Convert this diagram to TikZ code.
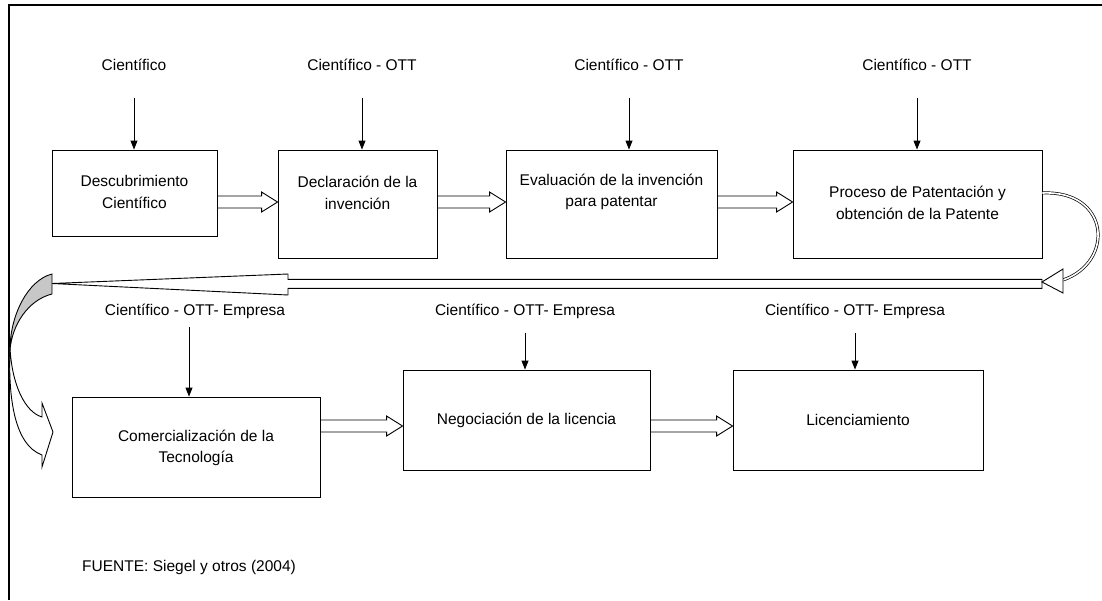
\documentclass[tikz,border=0pt]{standalone}
\usepackage{fontspec}
\setmainfont{Liberation Sans}
\usetikzlibrary{arrows.meta,calc}
\tikzset{ashift/.store in=\ashift, ashift=0pt}
\begin{document}
\begin{tikzpicture}[x=1pt,y=-1pt,
  every node/.style={font=\fontsize{15.5}{18.5}\selectfont},
  stepbox/.style={draw, line width=0.9pt, inner sep=0pt},
  txt/.style={align=center, inner sep=0pt},
  actor/.style={inner sep=0pt, text depth=0pt},
  downarrow/.style={line width=0.9pt, -{Triangle[length=9pt,width=7pt]}},
  blockarrow/.style={draw, fill=white, line width=0.9pt,
    to path={let \p1=(\tikztostart), \p2=(\tikztotarget) in
      ({\x1},{\y2+\ashift+6pt}) -- ({\x2-16pt},{\y2+\ashift+6pt})
      -- ({\x2-16pt},{\y2+\ashift+10pt}) -- ({\x2},{\y2+\ashift})
      -- ({\x2-16pt},{\y2+\ashift-10pt}) -- ({\x2-16pt},{\y2+\ashift-6pt})
      -- ({\x1},{\y2+\ashift-6pt}) -- cycle}},
  bandline/.style={line width=0.9pt},
]
\useasboundingbox (0,0) rectangle (1102,600);

% frame
\draw[line width=1.5pt] (9,600) -- (9,5) -- (1102,5);

% first row: actors
\node[actor] (l1) at (134,65) {Científico};
\node[actor] (l2) at (362,65) {Científico - OTT};
\node[actor] (l3) at (629,65) {Científico - OTT};
\node[actor] (l4) at (917,65) {Científico - OTT};

% first row: steps
\node[stepbox, minimum width=165pt, minimum height=86pt,
  label={[txt,yshift=1pt]center:{Descubrimiento\\[3pt]Científico}}] (b1) at (134.5,193) {};
\node[stepbox, minimum width=159pt, minimum height=108pt,
  label={[txt,yshift=11pt]center:{Declaración de la\\[3pt]invención}}] (b2) at (357.5,204) {};
\node[stepbox, minimum width=211pt, minimum height=108pt,
  label={[txt,yshift=12pt]center:{Evaluación de la invención\\[3pt]para patentar}}] (b3) at (611.5,204) {};
\node[stepbox, minimum width=249pt, minimum height=108pt,
  label={[txt,yshift=1pt]center:{Proceso de Patentación y\\[3pt]obtención de la Patente}}] (b4) at (917.5,204) {};

% second row: actors
\node[actor] (l5) at (195,310) {Científico - OTT- Empresa};
\node[actor] (l6) at (525,310) {Científico - OTT- Empresa};
\node[actor] (l7) at (855,310) {Científico - OTT- Empresa};

% second row: steps
\node[stepbox, minimum width=248pt, minimum height=100pt,
  label={[txt,yshift=-1pt]center:{Comercialización de la\\[3pt]Tecnología}}] (b5) at (196,447) {};
\node[stepbox, minimum width=247pt, minimum height=100pt,
  label={[txt]center:{Negociación de la licencia}}] (b6) at (526.5,420) {};
\node[stepbox, minimum width=250pt, minimum height=100pt,
  label={[txt]center:{Licenciamiento}}] (b7) at (858,420) {};

% actors point at their steps
\foreach \l/\b in {l1/b1,l2/b2,l3/b3,l4/b4}
  \draw[downarrow, shorten <=27pt] (\l) -- (\l |- \b.north);
\draw[downarrow, shorten <=17pt] ([xshift=-6pt]l5.center) -- ([xshift=-6pt]l5.center |- b5.north);
\foreach \l/\b in {l6/b6,l7/b7}
  \draw[downarrow, shorten <=17pt] (\l) -- (\l |- \b.north);

% hollow arrows between steps
\draw[blockarrow, ashift=2pt] (b1.east) to (b2.west);
\draw[blockarrow, ashift=2pt] (b2.east) to (b3.west);
\draw[blockarrow, ashift=2pt] (b3.east) to (b4.west);
\draw[blockarrow, ashift=-6pt] (b5.east) to (b6.west);
\draw[blockarrow, ashift=-6pt] (b6.east) to (b7.west);

% long return arrow back to the left margin
\coordinate (rtip) at (1042,282);
\coordinate (hd) at (1063,280);
\coordinate (ltip) at (52,283.5);
\draw[bandline, fill=white] (1042,279.3) -- (288,279.3) -- (288,274) -- (ltip)
  -- (288,295) -- (288,288.3) -- (1042,288.3) -- cycle;

% curved double connector from the patent step
\draw[double, double distance=1.6pt, line width=0.7pt]
  ([yshift=11pt]b4.east) .. controls (1110,190) and (1115,262) .. (hd);
\draw[bandline, fill=white] (rtip) -- (1063,269) -- (1063,293) -- cycle;

% curved block arrow down to the second row
\draw[bandline, fill=black!22] (52,274) .. controls (28,280) and (10,315) .. (10,350)
  .. controls (12,325) and (28,300) .. (52,294) -- cycle;
\draw[bandline, fill=white] (10,348) .. controls (12,385) and (25,412) .. (42,417)
  -- (42,403) -- (53,432) -- (42,467) -- (42,455)
  .. controls (15,445) and (8,400) .. (10,348) -- cycle;

% source
\node[anchor=west, inner sep=0pt] (src) at (82,567) {FUENTE: Siegel y otros (2004)};
\end{tikzpicture}
\end{document}
